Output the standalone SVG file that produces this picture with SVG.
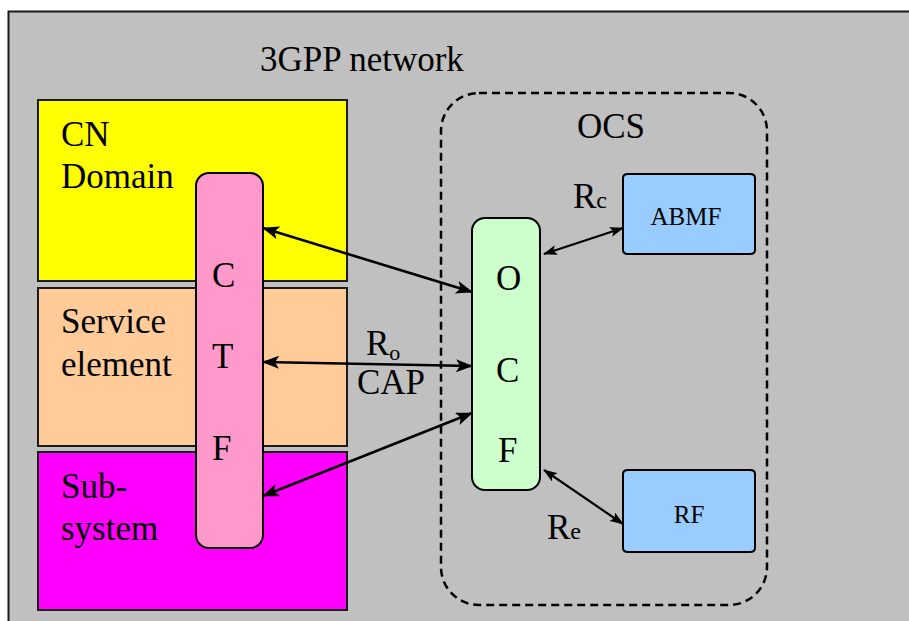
<svg xmlns="http://www.w3.org/2000/svg" width="909" height="621" viewBox="0 0 909 621">
<defs>
<style>
.t{font-family:"Liberation Serif","Times New Roman",serif;fill:#000;}
.big{font-size:35px;}
.sm{font-size:25px;}
.box{stroke:#1a1a1a;stroke-width:2;}
.pill{stroke:#000;stroke-width:2;}
.con{stroke:#000;stroke-width:2.6;fill:none;marker-start:url(#ah);marker-end:url(#ah);}
.con2{stroke:#000;stroke-width:2.2;fill:none;marker-start:url(#ah2);marker-end:url(#ah2);}
</style>
<marker id="ah" viewBox="0 0 17 13" refX="16" refY="6.5" markerWidth="17" markerHeight="13" markerUnits="userSpaceOnUse" orient="auto-start-reverse">
<path d="M0,0 L17,6.5 L0,13 L4,6.5 Z" fill="#000"/>
</marker>
<marker id="ah2" viewBox="0 0 14 10" refX="13" refY="5" markerWidth="14" markerHeight="10" markerUnits="userSpaceOnUse" orient="auto-start-reverse">
<path d="M0,0 L14,5 L0,10 L3,5 Z" fill="#000"/>
</marker>
</defs>
<rect x="0" y="0" width="909" height="621" fill="#ffffff"/>
<g id="network">
<rect x="8.5" y="11.5" width="920" height="640" fill="#c0c0c0" stroke="#1a1a1a" stroke-width="2"/>
<text class="t big" x="260" y="71">3GPP network</text>
</g>
<g id="cn-domain">
<rect class="box" x="38" y="100" width="309" height="181" fill="#ffff00"/>
<text class="t big" x="61" y="146">CN</text>
<text class="t big" x="61" y="188">Domain</text>
</g>
<g id="service-element">
<rect class="box" x="38" y="288" width="309" height="158" fill="#ffcc99"/>
<text class="t big" x="61" y="333">Service</text>
<text class="t big" x="61" y="376">element</text>
</g>
<g id="subsystem">
<rect class="box" x="38" y="452" width="309" height="158" fill="#ff00ff"/>
<text class="t big" x="61" y="498">Sub-</text>
<text class="t big" x="61" y="540">system</text>
</g>
<g id="ctf">
<rect class="pill" x="196" y="173" width="67" height="375" rx="13" ry="13" fill="#ff99cc"/>
<text class="t big" x="212" y="287">C</text>
<text class="t big" x="212" y="368">T</text>
<text class="t big" x="212" y="460">F</text>
</g>
<g id="ocs">
<rect x="441" y="93" width="326" height="512" rx="38" ry="38" fill="none" stroke="#000" stroke-width="2.5" stroke-dasharray="8,5"/>
<text class="t big" x="577" y="138">OCS</text>
</g>
<g id="ocf">
<rect class="pill" x="472" y="218" width="68" height="272" rx="13" ry="13" fill="#ccffcc"/>
<text class="t big" x="496" y="290">O</text>
<text class="t big" x="496" y="382">C</text>
<text class="t big" x="498" y="462">F</text>
</g>
<g id="abmf">
<path class="pill" d="M623,178 Q623,174 628,174 L750,174 Q755,174 755,178 L755,250 Q755,254 750,254 L628,254 Q623,254 623,250 Z" fill="#99ccff"/>
<text class="t sm" x="686" y="225" text-anchor="middle">ABMF</text>
</g>
<g id="rf">
<path class="pill" d="M623,474 Q623,470 628,470 L750,470 Q755,470 755,474 L755,548 Q755,552 750,552 L628,552 Q623,552 623,548 Z" fill="#99ccff"/>
<text class="t sm" x="689" y="523" text-anchor="middle">RF</text>
</g>
<g id="connectors">
<line class="con" x1="263" y1="228" x2="472" y2="292"/>
<line class="con" x1="263" y1="362" x2="472" y2="366"/>
<line class="con" x1="263" y1="496" x2="472" y2="413"/>
<line class="con2" x1="544" y1="254" x2="623" y2="228"/>
<line class="con2" x1="544" y1="470" x2="623" y2="524"/>
</g>
<g id="labels">
<text class="t big" x="366" y="355">R<tspan font-size="22" dy="5">o</tspan></text>
<text class="t big" x="357" y="394">CAP</text>
<text class="t big" x="573" y="208">R<tspan font-size="24">c</tspan></text>
<text class="t big" x="547" y="539">R<tspan font-size="24">e</tspan></text>
</g>
</svg>
